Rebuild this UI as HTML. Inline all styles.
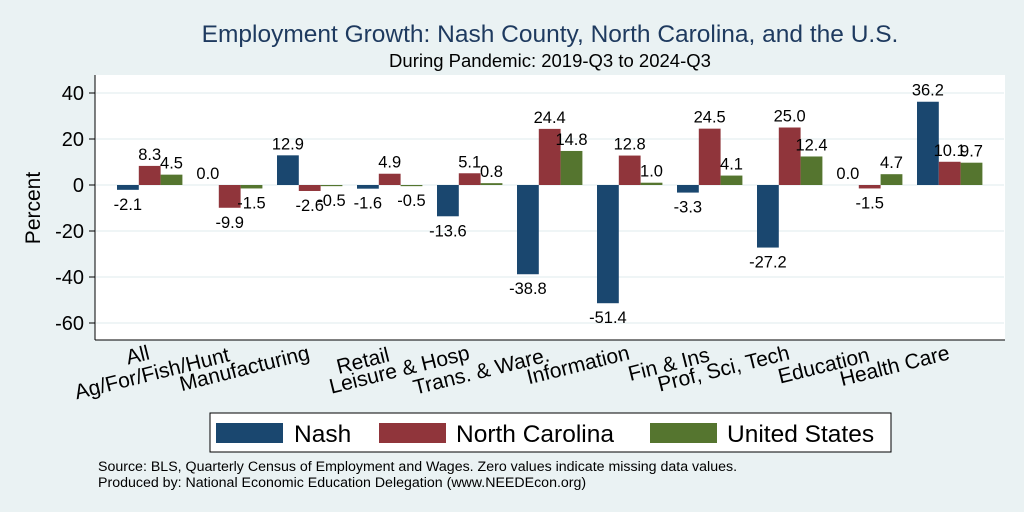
<!DOCTYPE html>
<html><head><meta charset="utf-8"><style>
body{margin:0;background:#eaf2f3;}
svg{display:block;font-family:"Liberation Sans",Arial,sans-serif;}
</style></head><body>
<svg width="1024" height="512" viewBox="0 0 1024 512">
<rect x="0" y="0" width="1024" height="512" fill="#eaf2f3"/>
<text x="550" y="42" text-anchor="middle" font-size="24.5" fill="#1e3a5f">Employment Growth: Nash County, North Carolina, and the U.S.</text>
<text x="550" y="67" text-anchor="middle" font-size="18.5" fill="#000">During Pandemic: 2019-Q3 to 2024-Q3</text>
<rect x="95" y="75" width="910" height="265" fill="#fff"/>
<g id="grid"></g>
<g id="bars"></g>
<g id="labels"></g>
<line x1="95" y1="75" x2="95" y2="340" stroke="#000" stroke-width="1"/>
<line x1="95" y1="340" x2="1005" y2="340" stroke="#000" stroke-width="1"/>
<g id="yticks"></g>
<g id="xcats"></g>
<text transform="translate(40,208) rotate(-90)" text-anchor="middle" font-size="21">Percent</text>
<g>
<rect x="210" y="413" width="681" height="39" fill="#fff" stroke="#000" stroke-width="1"/>
<rect x="216" y="423" width="67" height="20" fill="#1a476f"/>
<text x="294" y="442" font-size="24.5">Nash</text>
<rect x="379" y="423" width="67" height="20" fill="#90353b"/>
<text x="456" y="442" font-size="24.5">North Carolina</text>
<rect x="650" y="423" width="67" height="20" fill="#55752f"/>
<text x="727" y="442" font-size="24.5">United States</text>
</g>
<text x="98" y="471" font-size="14.2">Source: BLS, Quarterly Census of Employment and Wages. Zero values indicate missing data values.</text>
<text x="98" y="487" font-size="14.2">Produced by: National Economic Education Delegation (www.NEEDEcon.org)</text>
</svg>
<script>
const categories=["All","Ag/For/Fish/Hunt","Manufacturing","Retail","Leisure & Hosp","Trans. & Ware.","Information","Fin & Ins","Prof, Sci, Tech","Education","Health Care"];
const nash=[-2.1,0.0,12.9,-1.6,-13.6,-38.8,-51.4,-3.3,-27.2,0.0,36.2];
const nc=[8.3,-9.9,-2.6,4.9,5.1,24.4,12.8,24.5,25.0,-1.5,10.1];
const us=[4.5,-1.5,-0.5,-0.5,0.8,14.8,1.0,4.1,12.4,4.7,9.7];
const yTicks=[40,20,0,-20,-40,-60];
const seriesList=[nash,nc,us];
const seriesNames=["nash","nc","us"];
const colors=["#1a476f","#90353b","#55752f"];
const NS="http://www.w3.org/2000/svg";
function y(v){return 185-v*(92/40);}
function groupLeft(i){return 117+80*i;}
const bw=21.8;
function mk(tag,attrs,parent){const e=document.createElementNS(NS,tag);for(const k in attrs)e.setAttribute(k,attrs[k]);document.getElementById(parent).appendChild(e);return e;}
yTicks.forEach(t=>{
 const g=mk('line',{x1:96,x2:1004,y1:y(t),y2:y(t),stroke:'#eaf2f3','stroke-width':1.5},'grid');
 
 
 const tk=mk('line',{x1:89,x2:95,y1:y(t),y2:y(t),stroke:'#000'},'yticks');
 
 
 const tx=mk('text',{x:84,y:y(t)+7,'text-anchor':'end','font-size':20},'yticks');
 
 
 tx.textContent=t;
});
categories.forEach((c,i)=>{
 seriesList.forEach((s,j)=>{
  const v=s[i];const x=groupLeft(i)+j*bw;
  if(v!==0){
   const r=mk('rect',{x:x,y:Math.min(y(v),y(0)),width:bw,height:Math.abs(y(v)-y(0)),fill:colors[j]},'bars');
   
   
  }
  const ly=v>=0?y(v)-6:y(v)+20;
  const t=mk('text',{x:x+bw/2,y:ly,'text-anchor':'middle','font-size':16.5},'labels');
  
  
  t.textContent=v.toFixed(1);
 });
 const cx=groupLeft(i)+1.5*bw+1;
 const cy=i%2===0?359:361;
 const ct=mk('text',{transform:'translate('+cx+','+cy+') rotate(-14)','text-anchor':'end','font-size':21},'xcats');
 
 
 ct.textContent=c;
});
</script>
</body></html>
